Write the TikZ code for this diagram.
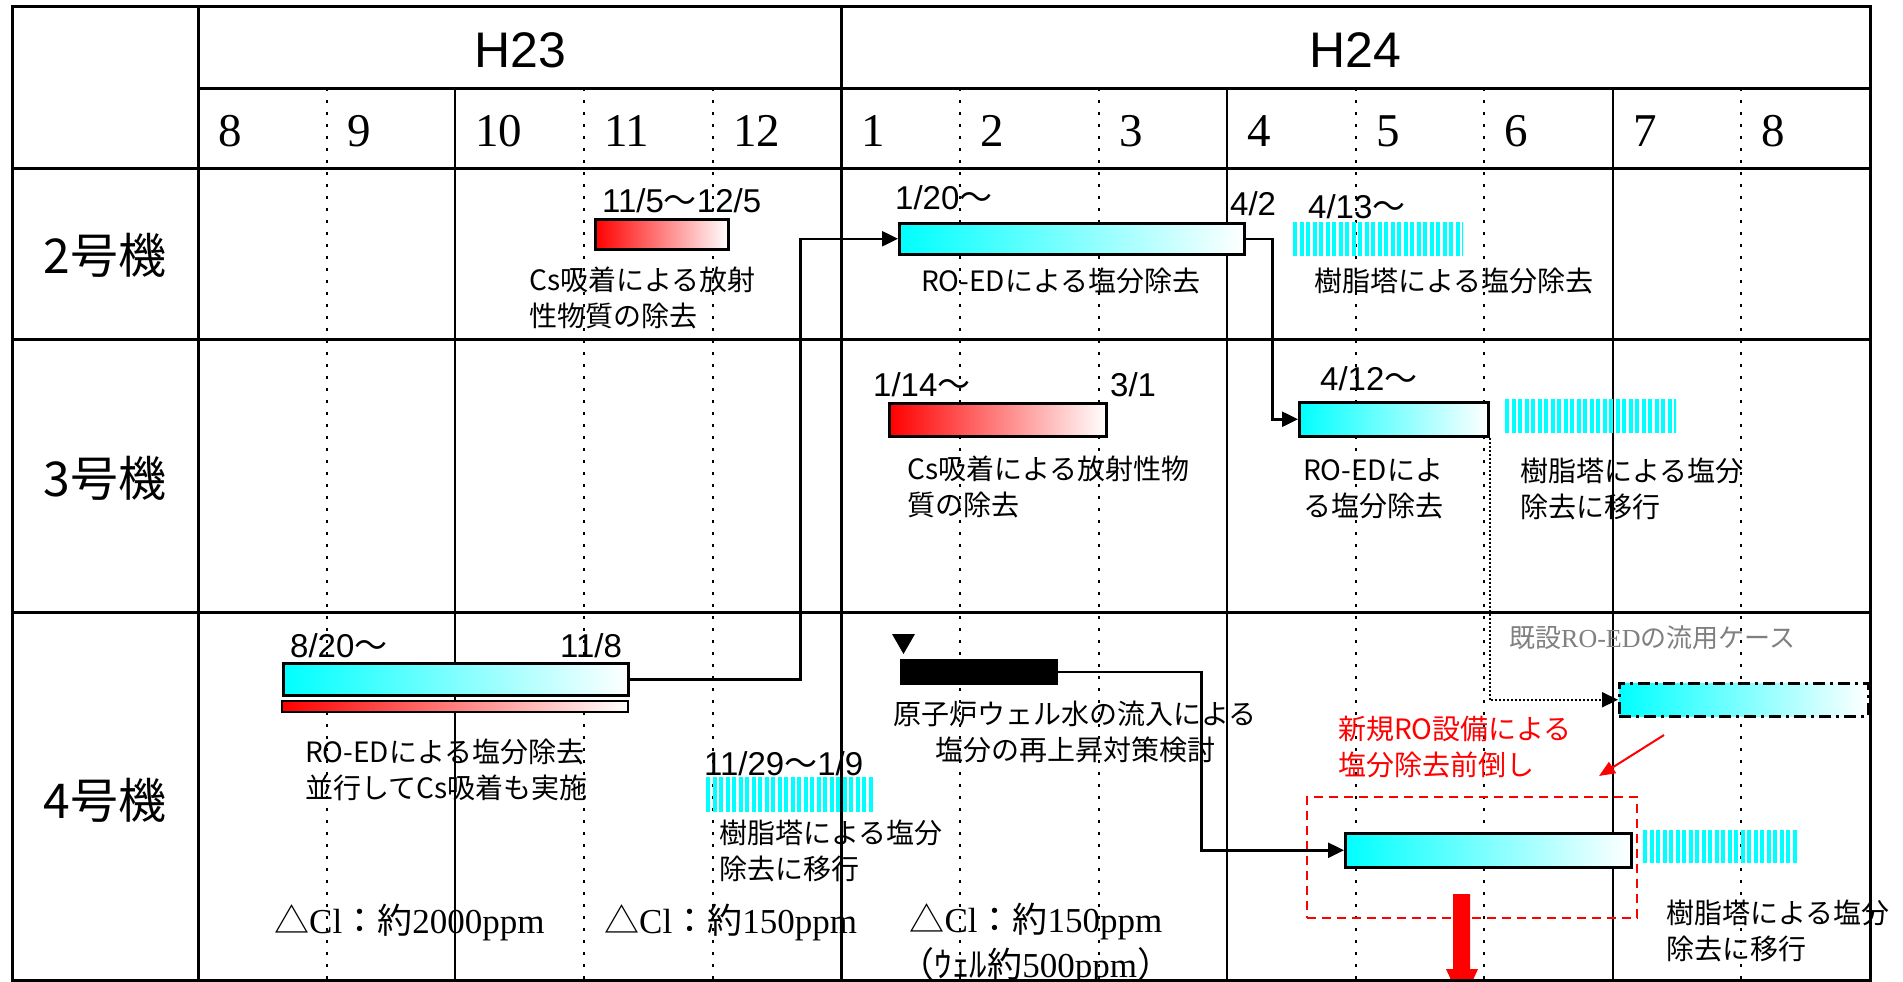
\documentclass[tikz,border=0pt]{standalone}
\usepackage{fontspec}
\setmainfont{Liberation Serif}
\newfontfamily\lsans{Liberation Sans}
\newfontfamily\cjk{Noto Sans CJK JP}
\usetikzlibrary{arrows.meta}
\definecolor{txtgray}{RGB}{128,128,128}
\definecolor{cy}{RGB}{0,255,255}
\definecolor{rd}{RGB}{255,0,0}
\newcommand\wv{{\cjk 〜}}
\tikzset{
  gridline/.style={line width=2pt, black},
  gridthick/.style={line width=3pt, black},
  mdot/.style={line width=2pt, dash pattern=on 2.5pt off 9.5pt},
  bar/.style={draw=black, line width=2.5pt, inner sep=0pt, anchor=north west, rectangle},
  cyanbar/.style={bar, left color=cy, right color=white},
  redbar/.style={bar, left color=rd, right color=white},
  hatch/.style={inner sep=0pt, anchor=north west, rectangle, path picture={
      \foreach \k [evaluate=\k as \kk using \k+4] in {0,6.5,...,260}
        \fill[cy] ([xshift=\k pt]path picture bounding box.north west) rectangle ([xshift=\kk pt]path picture bounding box.south west);
    }},
  hdr/.style={font=\lsans\fontsize{50}{54}\selectfont, inner sep=0pt},
  month/.style={font=\fontsize{47}{50}\selectfont, inner sep=0pt, anchor=west},
  rowlab/.style={font=\cjk\fontsize{48}{52}\selectfont, inner sep=0pt},
  datelab/.style={font=\lsans\fontsize{33}{36}\selectfont, inner sep=0pt, anchor=west},
  jlabel/.style={font=\cjk\fontsize{28}{36}\selectfont, inner sep=0pt, anchor=west, align=left},
  cllabel/.style={font=\fontsize{35}{45}\selectfont, inner sep=0pt},
  conn/.style={line width=2.5pt, -{Triangle[length=16pt,width=15pt]}},
  dconn/.style={line width=2pt, dotted, -{Triangle[length=16pt,width=15pt]}},
  rconn/.style={line width=2pt, rd, -{Triangle[length=16pt,width=13pt]}},
}
\begin{document}
\begin{tikzpicture}[x=1pt,y=-1pt]
\useasboundingbox (0,0) rectangle (1903,982);
\fill[white] (0,0) rectangle (1903,982);

% grid
\foreach \x in {327,584,713,960,1099,1356,1484,1741}
  \draw[mdot] (\x,88) -- (\x,980);
\foreach \x in {455,1227,1613}
  \draw[gridline] (\x,88) -- (\x,980);
\draw[gridthick] (198,7) -- (198,980);
\draw[gridthick] (841,7) -- (841,980);
\draw[gridthick] (198,88) -- (1870,88);
\foreach \y in {168,339,612}
  \draw[gridthick] (12,\y) -- (1870,\y);

% headers
\node[hdr] (h23) at (520,50) {H23};
\node[hdr] (h24) at (1355,50) {H24};
\foreach \x/\m [count=\i] in {198/8,327/9,455/10,584/11,713/12,841/1,960/2,1099/3,1227/4,1356/5,1484/6,1613/7,1741/8}
  \node[month] (m\i) at (\x+20,131) {\m};

% row labels
\node[rowlab] (r2) at (105,255) {2号機};
\node[rowlab] (r3) at (105,478) {3号機};
\node[rowlab] (r4) at (105,800) {4号機};

% ---- unit 2
\node[datelab] (d1) at (602,201) {11/5\wv 12/5};
\node[redbar, minimum width=133, minimum height=30] (b2a) at (594,218) {};
\node[jlabel] (t1) at (529,298) {Cs吸着による放射\\性物質の除去};
\node[datelab] (d2) at (895,198) {1/20\wv};
\node[cyanbar, minimum width=345, minimum height=31] (b2b) at (898,222) {};
\node[jlabel] (t2) at (921,281) {RO-EDによる塩分除去};
\node[datelab] (d3) at (1230,204) {4/2};
\node[datelab] (d4) at (1308,207) {4/13\wv};
\node[hatch, minimum width=170, minimum height=34] (h2) at (1293,222) {};
\node[jlabel] (t3) at (1314,281) {樹脂塔による塩分除去};

% ---- unit 3
\node[datelab] (d5) at (873,385) {1/14\wv};
\node[redbar, minimum width=217, minimum height=33] (b3a) at (888,402) {};
\node[datelab] (d6) at (1110,385) {3/1};
\node[jlabel] (t4) at (907,487) {Cs吸着による放射性物\\質の除去};
\node[datelab] (d7) at (1320,379) {4/12\wv};
\node[cyanbar, minimum width=189, minimum height=34] (b3b) at (1298,401) {};
\node[hatch, minimum width=171, minimum height=34] (h3) at (1505,399) {};
\node[jlabel] (t5) at (1303,489) {RO-EDによ\\る塩分除去};
\node[jlabel] (t6) at (1520,489) {樹脂塔による塩分\\除去に移行};

% ---- unit 4
\node[datelab] (d8) at (290,646) {8/20\wv};
\node[datelab] (d9) at (560,646) {11/8};
\node[cyanbar, minimum width=345, minimum height=32] (b4a) at (282,662) {};
\node[redbar, line width=2pt, minimum width=346, minimum height=11] (b4r) at (281,700) {};
\node[jlabel] (t7) at (305,770) {RO-EDによる塩分除去\\並行してCs吸着も実施};
\node[datelab] (d10) at (704,764) {11/29\wv 1/9};
\node[hatch, minimum width=167, minimum height=35] (h4) at (706,777) {};
\node[jlabel] (t8) at (719,851) {樹脂塔による塩分\\除去に移行};
\node[cllabel, anchor=west] (c1) at (274,922) {{\cjk △}Cl{\cjk ：約}2000ppm};
\node[cllabel, anchor=west] (c2) at (604,922) {{\cjk △}Cl{\cjk ：約}150ppm};
\node[cllabel, align=center] (c3) at (1036,944) {{\cjk △}Cl{\cjk ：約}150ppm\\{\cjk （ｳｪﾙ約}500ppm{\cjk ）}};

\fill[black] (892,634) -- (915,634) -- (903.5,654) -- cycle;
\node[bar, fill=black, minimum width=155, minimum height=23] (blk) at (900,659) {};
\node[jlabel, anchor=center, align=center] (t9) at (1075,732) {原子炉ウェル水の流入による\\塩分の再上昇対策検討};

\node[font=\fontsize{26}{30}\selectfont, text=txtgray, inner sep=0pt, anchor=west] (g1) at (1509,638) {{\cjk 既設}RO-ED{\cjk の流用ケース}};
\node[bar, dash pattern=on 12pt off 5pt on 3pt off 5pt, left color=cy, right color=white, minimum width=249, minimum height=33] (b7) at (1618,682) {};
\node[jlabel, text=rd] (rt) at (1338,747) {新規RO設備による\\塩分除去前倒し};
\coordinate (ra1) at (1664,735);
\coordinate (ra2) at (1599,776);
\draw[rconn] (ra1) -- (ra2);

\node[draw=rd, line width=2pt, dash pattern=on 9pt off 6pt, inner sep=0pt, anchor=north west, minimum width=330, minimum height=121] (rbox) at (1306,796) {};
\node[cyanbar, minimum width=286, minimum height=34] (b4n) at (1344,832) {};
\node[hatch, minimum width=154, minimum height=33] (h4n) at (1643,830) {};
\node[jlabel] (t10) at (1666,931) {樹脂塔による塩分\\除去に移行};

% connectors
\draw[conn] (b4a.east) -- ++(171,0) |- (b2b.west);
\draw[conn] (b2b.east) -- ++(27,0) |- (b3b.west);
\draw[dconn] (b3b.south east) |- (b7.west);
\draw[conn] (blk.east) -- ++(144,0) |- (b4n.west);

% big red arrow
\fill[rd] (1453,894) -- (1470,894) -- (1470,969) -- (1478,969) -- (1462,1004) -- (1446,969) -- (1453,969) -- cycle;

% frame
\draw[line width=3pt] (12,7) rectangle (1870,980);
\end{tikzpicture}
\end{document}
